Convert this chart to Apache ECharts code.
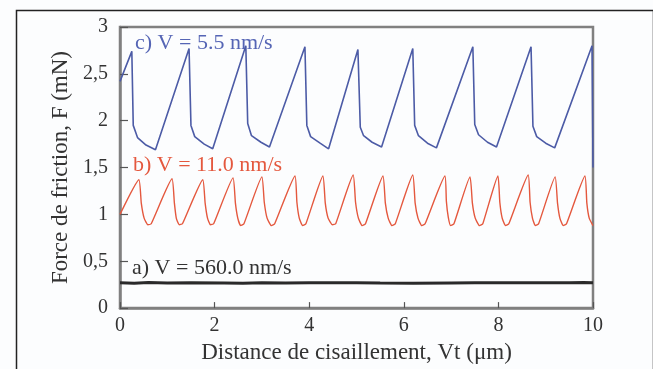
<!DOCTYPE html>
<html>
<head>
<meta charset="utf-8">
<script src="https://cdn.jsdelivr.net/npm/echarts@6/dist/echarts.min.js"></script>
<style>
html,body{margin:0;padding:0;background:#fcfdfe;}
#chart{width:653px;height:369px;}
</style>
</head>
<body>
<div id="chart"></div>
<script>
// Tick labels
var xTicks = [0, 2, 4, 6, 8, 10];
var yTicks = ['0', '0,5', '1', '1,5', '2', '2,5', '3'];

// c) V = 5.5 nm/s (blue)
var blueData = [
  [0,2.42],[0.25,2.74],[0.28,1.95],[0.37,1.82],[0.55,1.74],[0.75,1.69],
  [1.46,2.77],[1.50,1.95],[1.58,1.83],[1.78,1.75],[1.96,1.70],
  [2.66,2.80],[2.70,1.97],[2.78,1.84],[2.98,1.77],[3.16,1.72],
  [3.91,2.79],[3.95,1.95],[4.03,1.83],[4.23,1.76],[4.41,1.70],
  [5.03,2.76],[5.08,1.93],[5.15,1.84],[5.33,1.77],[5.53,1.72],
  [6.19,2.77],[6.23,1.95],[6.31,1.84],[6.50,1.76],[6.69,1.71],
  [7.46,2.79],[7.50,1.96],[7.58,1.85],[7.77,1.77],[7.96,1.72],
  [8.69,2.79],[8.73,1.94],[8.81,1.83],[9.00,1.76],[9.19,1.71],
  [9.98,2.80],[10,1.50]
];

// b) V = 11.0 nm/s (red)
var redData = [
  [0,1.00],
  [0.40,1.37],[0.45,1.12],[0.51,0.96],[0.59,0.89],[0.66,0.90],
  [1.10,1.38],[1.15,1.12],[1.19,0.96],[1.25,0.89],[1.32,0.90],
  [1.75,1.37],[1.80,1.12],[1.85,0.96],[1.91,0.89],[1.98,0.90],
  [2.39,1.39],[2.44,1.12],[2.49,0.96],[2.55,0.88],[2.62,0.90],
  [3.00,1.40],[3.05,1.13],[3.11,0.96],[3.20,0.88],[3.27,0.90],
  [3.70,1.41],[3.74,1.13],[3.79,0.96],[3.86,0.88],[3.93,0.90],
  [4.29,1.41],[4.34,1.12],[4.40,0.96],[4.49,0.89],[4.56,0.90],
  [4.93,1.42],[4.98,1.13],[5.04,0.96],[5.12,0.88],[5.19,0.90],
  [5.56,1.41],[5.61,1.12],[5.67,0.96],[5.75,0.88],[5.82,0.90],
  [6.19,1.42],[6.24,1.12],[6.30,0.96],[6.38,0.88],[6.45,0.90],
  [6.87,1.41],[6.90,1.14],[6.94,0.97],[6.99,0.88],[7.06,0.90],
  [7.40,1.40],[7.45,1.12],[7.51,0.96],[7.60,0.88],[7.67,0.90],
  [7.99,1.41],[8.03,1.13],[8.08,0.96],[8.15,0.88],[8.22,0.90],
  [8.63,1.42],[8.67,1.13],[8.72,0.96],[8.78,0.88],[8.85,0.90],
  [9.20,1.40],[9.25,1.12],[9.30,0.96],[9.37,0.88],[9.44,0.90],
  [9.83,1.41],[9.87,1.12],[9.92,0.96],[10,0.88]
];

// a) V = 560.0 nm/s (black)
var blackData = [
  [0,0.27],[0.3,0.265],[0.6,0.272],[1.0,0.268],[1.5,0.27],[2.2,0.267],
  [2.6,0.265],[3.0,0.27],[3.5,0.267],[4.0,0.27],[5.0,0.27],[5.5,0.267],
  [6.2,0.265],[7.0,0.268],[7.5,0.27],[9.5,0.27],[9.8,0.274],[10,0.27]
];

var labels = ['c) V = 5.5 nm/s', 'b) V = 11.0 nm/s', 'a) V = 560.0 nm/s'];

var FONT = 'Liberation Serif';
var chart = echarts.init(document.getElementById('chart'), null, {renderer: 'canvas'});
var option = {
  backgroundColor: '#fcfdfe',
  animation: false,
  grid: {left: 120, top: 27, right: 60, bottom: 57, show: true,
         borderColor: '#808080', borderWidth: 2.5, backgroundColor: 'transparent'},
  xAxis: {
    type: 'value', min: 0, max: 10, interval: 2,
    name: 'Distance de cisaillement, Vt (\u03bcm)',
    nameLocation: 'middle', nameGap: 32,
    nameTextStyle: {fontFamily: FONT, fontSize: 23, color: '#333'},
    axisLine: {show: true, lineStyle: {color: '#808080', width: 2.5}},
    axisTick: {show: true, inside: true, length: 6, lineStyle: {color: '#555', width: 1.2}},
    axisLabel: {fontFamily: FONT, fontSize: 20, color: '#333', margin: 8,
      formatter: function (v) { return xTicks.indexOf(v) >= 0 ? String(v) : ''; }},
    splitLine: {show: false}
  },
  yAxis: {
    type: 'value', min: 0, max: 3, interval: 0.5,
    name: 'Force de friction, F (mN)',
    nameLocation: 'middle', nameGap: 48,
    nameTextStyle: {fontFamily: FONT, fontSize: 23, color: '#333'},
    axisLine: {show: true, lineStyle: {color: '#808080', width: 2.5}},
    axisTick: {show: true, inside: true, length: 8, lineStyle: {color: '#555', width: 1.2}},
    axisLabel: {fontFamily: FONT, fontSize: 20, color: '#333', margin: 12,
      formatter: function (v) { return yTicks[Math.round(v * 2)]; }},
    splitLine: {show: false}
  },
  series: [
    {type: 'line', data: blackData, symbol: 'none', z: 3,
     lineStyle: {color: '#2a2a2a', width: 3}},
    {type: 'line', data: redData, symbol: 'none', z: 4, smooth: 0.15,
     lineStyle: {color: '#e4583e', width: 1.4}},
    {type: 'line', data: blueData, symbol: 'none', z: 5,
     lineStyle: {color: '#4c5ba6', width: 1.6}}
  ],
  graphic: [
    {type: 'rect', left: 14, top: 8, z: 0, silent: true,
     shape: {width: 637, height: 400},
     style: {fill: 'none', stroke: '#222', lineWidth: 1.5}},
    {type: 'text', left: 135, top: 32, z: 2,
     style: {text: labels[0], fill: '#5565b5', font: '22px "Liberation Serif"'}},
    {type: 'text', left: 133, top: 154, z: 2,
     style: {text: labels[1], fill: '#e4583e', font: '22px "Liberation Serif"'}},
    {type: 'text', left: 132, top: 257, z: 2,
     style: {text: labels[2], fill: '#333', font: '22px "Liberation Serif"'}}
  ]
};
chart.setOption(option);
</script>
</body>
</html>
